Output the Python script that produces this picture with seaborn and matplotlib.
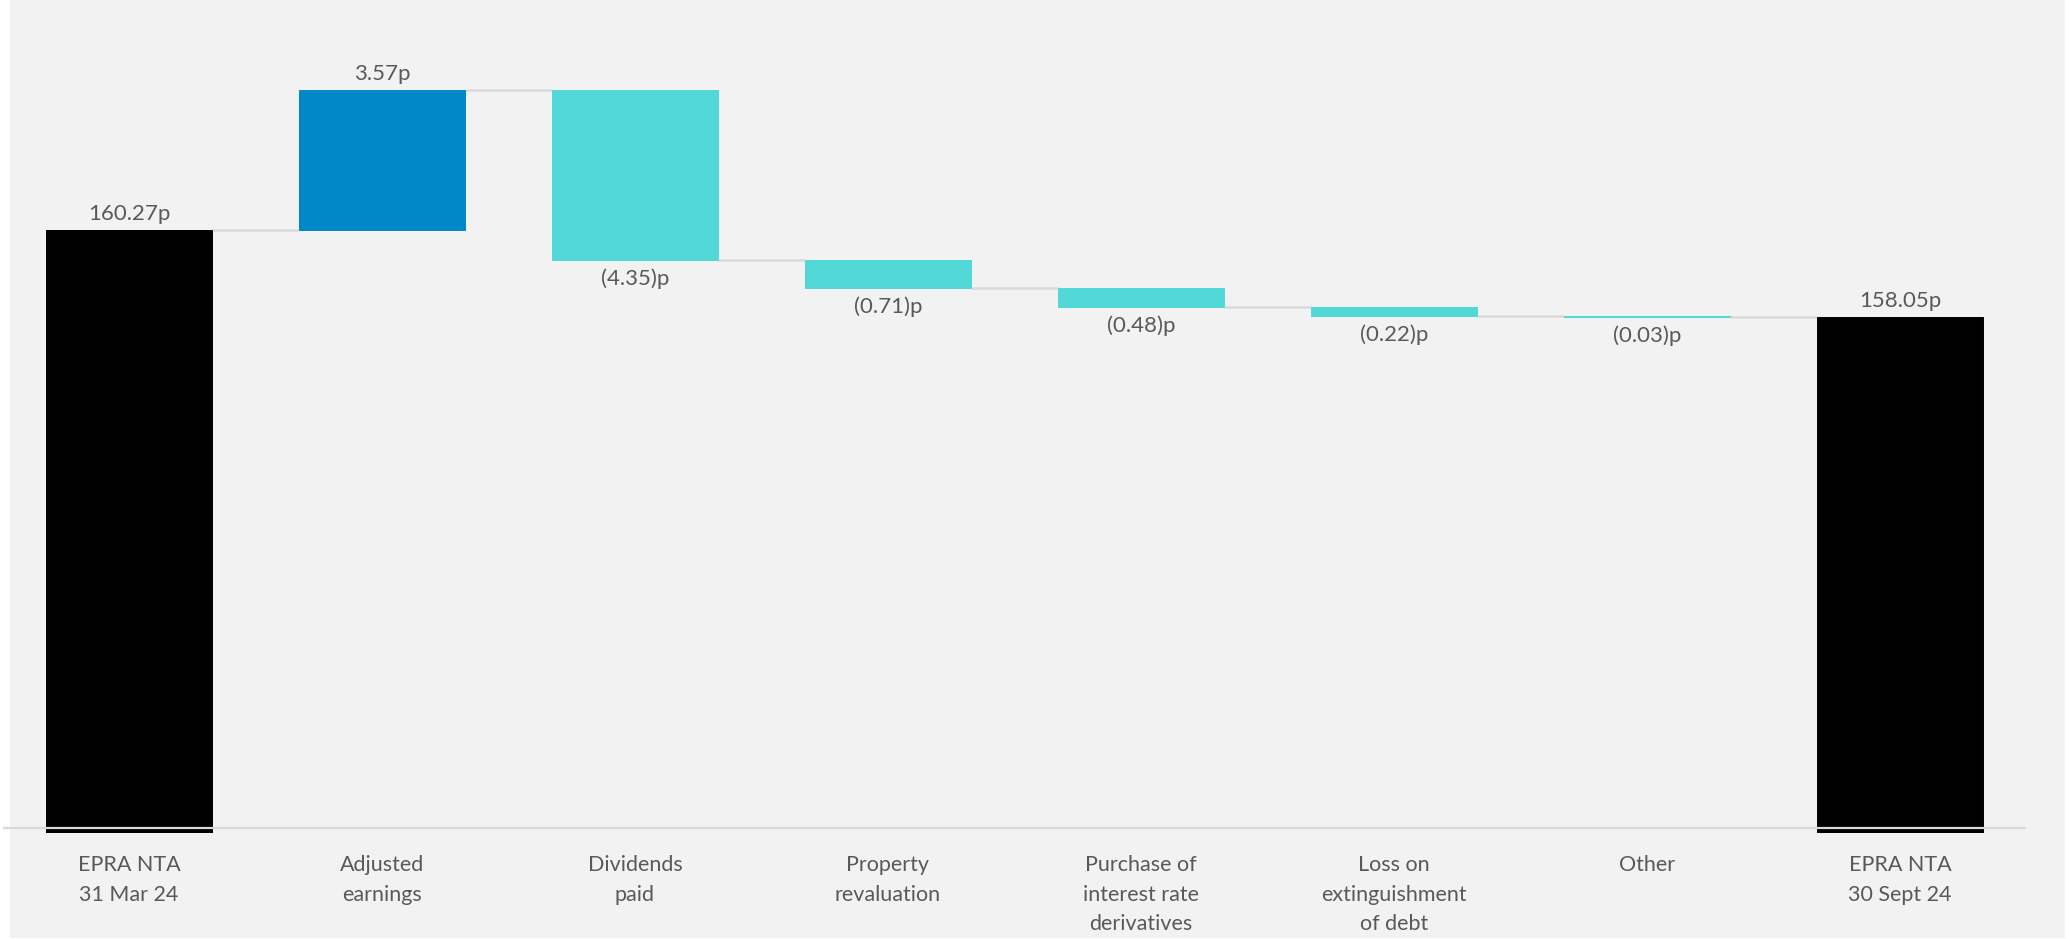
import numpy as np
import pandas as pd
import matplotlib
matplotlib.use("Agg")
import matplotlib.pyplot as plt
from matplotlib.patches import Rectangle
import seaborn as sns

# Bridge of EPRA NTA per share (pence)
categories = [
    "EPRA NTA\n31 Mar 24",
    "Adjusted\nearnings",
    "Dividends\npaid",
    "Property\nrevaluation",
    "Purchase of\ninterest rate\nderivatives",
    "Loss on\nextinguishment\nof debt",
    "Other",
    "EPRA NTA\n30 Sept 24",
]
opening_nta = 160.27
movements = [3.57, -4.35, -0.71, -0.48, -0.22, -0.03]
closing_nta = 158.05
value_labels = ["160.27p", "3.57p", "(4.35)p", "(0.71)p", "(0.48)p",
                "(0.22)p", "(0.03)p", "158.05p"]

TOTAL_C = "#000000"
UP_C = "#0088C9"
DOWN_C = "#52D8D7"
PANEL_C = "#F2F2F2"
LINE_C = "#D9D9D9"
TEXT_C = "#595959"

sns.set_theme(style="white")
plt.rcParams["font.family"] = ["Lato", "DejaVu Sans"]

# Floating bar extents
levels = np.concatenate([[opening_nta], opening_nta + np.cumsum(movements)])
lows, highs, colors = [0.0], [opening_nta], [TOTAL_C]
for i, m in enumerate(movements):
    a, b = levels[i], levels[i + 1]
    lows.append(min(a, b))
    highs.append(max(a, b))
    colors.append(UP_C if m > 0 else DOWN_C)
lows.append(0.0)
highs.append(closing_nta)
colors.append(TOTAL_C)
lows = np.array(lows)
highs = np.array(highs)

df = pd.DataFrame({"step": categories, "span": highs - lows})

W, H, DPI = 2071, 939, 100
fig = plt.figure(figsize=(W / DPI, H / DPI), dpi=DPI, facecolor="white")
fig.patches.append(Rectangle((10 / W, 1 / H), 2055 / W, 938 / H,
                             transform=fig.transFigure, facecolor=PANEL_C,
                             edgecolor="none", zorder=-10))
ax = fig.add_axes([2.5 / W, (H - 833) / H, 2024 / W, 833 / H])
ax.set_facecolor("none")

sns.barplot(data=df, x="step", y="span", hue="step", palette=colors,
            legend=False, width=0.66, saturation=1, ax=ax, zorder=2)
for patch, lo, c in zip(ax.patches, lows, colors):
    patch.set_y(lo)
    patch.set_edgecolor(c)
    patch.set_linewidth(0.7)

ax.set_xlim(-0.5, len(categories) - 0.5)
ax.set_ylim(144.885, 166.13)

# Baseline
ax.axhline(145, color=LINE_C, lw=1.6, zorder=3)

# Connectors between consecutive bars
half = 0.33
conn_levels = [opening_nta] + list(levels[1:])
for i in range(len(categories) - 1):
    y = conn_levels[i]
    ax.plot([i + half, i + 1 - half], [y, y], color=LINE_C, lw=1.8,
            solid_capstyle="butt", zorder=1)

# Value labels
for i, lab in enumerate(value_labels):
    is_down = lab.startswith("(")
    if is_down:
        ax.annotate(lab, (i, lows[i]), xytext=(0, -6), textcoords="offset points",
                    ha="center", va="top", fontsize=16, color=TEXT_C)
    else:
        ax.annotate(lab, (i, highs[i]), xytext=(0, 4), textcoords="offset points",
                    ha="center", va="bottom", fontsize=16, color=TEXT_C)

ax.set_xlabel("")
ax.set_ylabel("")
ax.set_yticks([])
ax.tick_params(axis="x", length=0, pad=16, labelsize=15.5, labelcolor=TEXT_C)
ax.set_xticks(range(len(categories)))
ax.set_xticklabels(categories, linespacing=1.6)
for s in ax.spines.values():
    s.set_visible(False)

fig.savefig("out.png", dpi=DPI, facecolor="white")
